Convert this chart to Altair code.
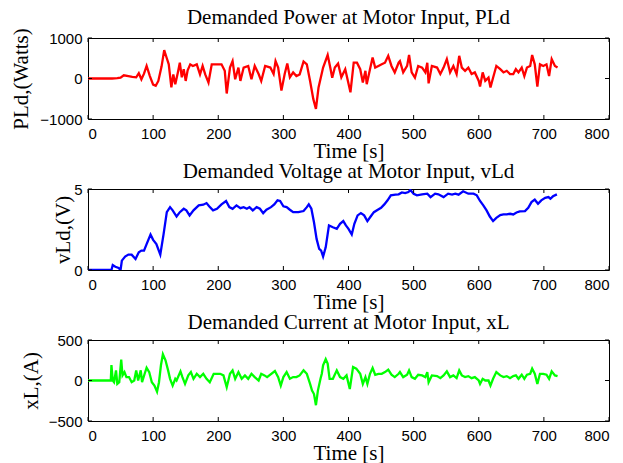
import altair as alt
import pandas as pd

# ---------------- data ----------------
time_ticks = [0, 100, 200, 300, 400, 500, 600, 700, 800]

power_t = [0, 37, 45, 50, 55, 62, 68, 74, 78, 82, 86, 90, 95, 100, 104, 108, 113, 117, 121, 124,
           128, 131, 134, 138, 141, 144, 147, 150, 153, 157, 161, 167, 172, 176, 180, 185, 190, 198,
           205, 210, 213, 218, 222, 226, 231, 234, 239, 246, 251, 256, 262, 266, 272, 280, 285, 288,
           292, 297, 302, 306, 310, 315, 320, 325, 331, 336, 341, 346, 350, 354, 361, 368, 372, 375,
           379, 384, 389, 395, 403, 408, 413, 418, 422, 426, 428, 433, 437, 441, 446, 451, 456, 461,
           466, 471, 477, 479, 484, 490, 493, 497, 502, 507, 513, 518, 521, 523, 528, 536, 541, 546,
           551, 556, 561, 566, 570, 574, 579, 584, 589, 594, 600, 602, 606, 610, 615, 618, 622, 627,
           633, 638, 643, 648, 653, 657, 661, 666, 670, 674, 679, 682, 686, 690, 694, 699, 704, 708,
           712, 717, 721]
power_w = [0, 0, 10, 20, 80, 60, 40, 30, 130, -20, 120, 310, 60, -150, -180, -60, 300, 700, 500, 350,
           -220, 100, -140, 150, 390, 30, 230, -60, 200, 350, 310, 350, 100, 310, 100, -100, 350, 350,
           350, 190, -370, 270, 430, -20, 270, -60, 270, 310, -20, 310, 110, -60, 310, 270, 110, 430,
           270, -300, 110, 370, 30, 150, 60, 100, 420, 350, -60, -510, -750, -220, 270, 580, 270, 20,
           270, 370, 30, 230, -340, 390, 390, 230, -100, 190, -140, 230, 520, 270, 310, 350, 390, 560,
           310, 150, 390, 430, 150, 310, 580, 150, 20, 310, 270, 150, 390, -120, 310, 270, 110, 270,
           480, 150, 310, 110, 560, 270, 190, 270, 110, 150, -60, -200, 150, -60, 20, -220, 20, 310,
           230, 150, 190, 110, 110, 230, 150, 270, 60, 270, 310, 580, 350, -200, 350, 310, 350, 60,
           480, 310, 270]

volt_t = [0, 36, 38, 42, 47, 50, 52, 57, 62, 67, 73, 78, 82, 86, 90, 96, 100, 105, 111, 116, 121,
          126, 130, 136, 141, 147, 151, 156, 162, 170, 177, 182, 186, 192, 198, 205, 212, 217, 222,
          228, 234, 239, 244, 248, 253, 259, 264, 269, 274, 281, 286, 291, 295, 300, 305, 310, 315,
          323, 331, 336, 339, 343, 347, 351, 355, 358, 361, 365, 370, 376, 382, 387, 392, 396, 400,
          405, 409, 414, 419, 424, 429, 434, 439, 445, 450, 455, 460, 465, 472, 477, 482, 487, 492,
          495, 500, 505, 513, 521, 526, 533, 538, 546, 553, 559, 564, 569, 576, 584, 592, 597, 602,
          607, 612, 617, 622, 627, 633, 638, 643, 648, 653, 658, 663, 671, 676, 681, 686, 691, 696,
          702, 707, 710, 714, 720]
volt_v = [0, 0, 0.30, 0.20, 0.12, 0.0, 0.58, 0.83, 0.95, 0.95, 0.68, 1.10, 1.20, 1.20, 1.60, 2.19,
          1.86, 1.60, 0.95, 2.20, 3.57, 3.88, 3.68, 3.30, 3.57, 3.78, 3.68, 3.37, 3.68, 3.99, 4.03,
          4.13, 3.93, 3.68, 3.78, 4.05, 4.26, 3.88, 3.78, 3.99, 3.82, 3.88, 3.78, 3.88, 3.68, 3.88,
          3.78, 3.51, 3.72, 3.88, 4.05, 4.30, 4.26, 3.93, 3.88, 3.72, 3.57, 3.57, 3.64, 3.88, 4.05,
          3.78, 2.95, 1.92, 1.30, 1.20, 0.83, 1.40, 2.75, 2.64, 2.54, 2.85, 3.02, 2.75, 2.54, 2.19,
          2.85, 3.37, 3.51, 3.37, 3.02, 3.30, 3.57, 3.72, 3.84, 4.05, 4.30, 4.61, 4.65, 4.67, 4.79,
          4.75, 4.81, 4.94, 4.71, 4.61, 4.67, 4.71, 4.50, 4.71, 4.67, 4.50, 4.71, 4.65, 4.71, 4.65,
          4.86, 4.71, 4.71, 4.61, 4.26, 3.99, 3.68, 3.30, 3.02, 3.22, 3.39, 3.43, 3.43, 3.47, 3.43,
          3.55, 3.62, 3.64, 3.84, 4.19, 4.34, 4.09, 4.30, 4.46, 4.50, 4.40, 4.55, 4.67]

curr_t = [0, 35, 36, 38, 40, 43, 45, 48, 51, 53, 56, 59, 63, 67, 71, 74, 77, 81, 83, 87, 90, 94, 98,
          102, 106, 109, 112, 115, 119, 123, 126, 130, 134, 136, 142, 145, 149, 154, 158, 162, 167,
          172, 177, 182, 187, 193, 198, 203, 208, 213, 218, 222, 226, 231, 236, 241, 246, 251, 256,
          262, 266, 271, 275, 287, 292, 296, 300, 305, 310, 315, 320, 325, 331, 336, 341, 344, 347,
          350, 353, 357, 359, 361, 365, 368, 371, 376, 382, 387, 392, 397, 402, 407, 412, 418, 422,
          426, 429, 433, 437, 441, 446, 451, 456, 461, 466, 471, 477, 479, 484, 490, 493, 497, 502,
          507, 513, 518, 521, 523, 528, 536, 541, 546, 551, 556, 561, 566, 570, 574, 579, 584, 589,
          594, 600, 602, 606, 610, 615, 618, 622, 627, 633, 638, 643, 648, 653, 657, 661, 666, 670,
          674, 679, 682, 686, 690, 694, 699, 704, 708, 712, 717, 721]
curr_a = [0, 0, 190, 0, -21, 125, -42, -21, 258, 63, 104, 42, 42, -21, 0, 125, 0, 125, -21, 83, 158,
          104, -21, -63, -138, -21, 188, 325, 250, 125, 21, -63, 21, 0, 113, 42, -42, 63, 104, 21, 83,
          42, 83, 21, -21, 83, 83, 83, 63, -83, 83, 125, 21, 104, 21, 63, 21, 83, 42, 0, 83, 63, 42,
          117, 42, -63, 42, 104, 21, 42, 42, 63, 125, 83, -42, -125, -167, -305, -125, 21, 83, 188,
          263, 208, 21, 21, 125, 42, 21, 63, -105, 167, 146, 83, -42, 42, -42, 83, 154, 71, 83, 83,
          104, 133, 71, 42, 83, 104, 42, 71, 125, 42, 21, 71, 63, 42, 104, -21, 63, 54, 29, 63, 113,
          42, 63, 29, 125, 63, 42, 54, 29, 42, 0, -42, 21, 0, 0, -63, 21, 104, 63, 42, 54, 29, 54,
          63, 21, 71, 21, 71, 83, 146, 83, -42, 83, 83, 71, 21, 113, 63, 54]

W, H = 521, 81


def panel(ts, vs, color, ydom, yticks, title, ytitle, title_x):
    df = pd.DataFrame({"t": ts, "v": vs})
    xdf = pd.DataFrame({"t": time_ticks})
    ydf = pd.DataFrame({"v": yticks})
    xscale = alt.Scale(domain=[0, 800], nice=False, zero=False)
    yscale = alt.Scale(domain=ydom, nice=False, zero=False)
    xaxis = alt.Axis(values=time_ticks, title="Time [s]", labelPadding=7, format="d",
                     titleY=38.5, titleBaseline="alphabetic")
    yaxis = alt.Axis(values=yticks, title=ytitle, labelPadding=6, titleX=title_x, format="d",
                     titleBaseline="middle")
    xenc = alt.X("t:Q", scale=xscale, axis=xaxis)
    yenc = alt.Y("v:Q", scale=yscale, axis=yaxis)

    line = alt.Chart(df).mark_line(color=color, strokeWidth=2.3, clip=True).encode(x=xenc, y=yenc)
    top_ticks = alt.Chart(xdf).mark_rule(color="black", strokeWidth=1).encode(
        x=xenc, y=alt.value(0), y2=alt.value(4))
    bot_ticks = alt.Chart(xdf).mark_rule(color="black", strokeWidth=1).encode(
        x=xenc, y=alt.value(H), y2=alt.value(H - 4))
    left_ticks = alt.Chart(ydf).mark_rule(color="black", strokeWidth=1).encode(
        y=yenc, x=alt.value(0), x2=alt.value(4))
    right_ticks = alt.Chart(ydf).mark_rule(color="black", strokeWidth=1).encode(
        y=yenc, x=alt.value(W), x2=alt.value(W - 4))
    return alt.layer(line, top_ticks, bot_ticks, left_ticks, right_ticks).properties(
        width=W, height=H,
        title=alt.TitleParams(title, frame="group", anchor="middle", baseline="alphabetic",
                              offset=-17),
    )


p1 = panel(power_t, power_w, "#ff0000", [-1000, 1000], [-1000, 0, 1000],
           "Demanded Power at Motor Input, PLd", "PLd,(Watts)", -67)
p2 = panel(volt_t, volt_v, "#0000ff", [0, 5], [0, 5],
           "Demanded Voltage at Motor Input, vLd", "vLd,(V)", -25)
p3 = panel(curr_t, curr_a, "#00ff00", [-500, 500], [-500, 0, 500],
           "Demanded Current at Motor Input, xL", "xL,(A)", -57)

chart = alt.vconcat(p1, p2, p3, spacing=70, bounds="flush").properties(
    padding={"left": 1, "top": -2, "right": 5, "bottom": 0},
    background="white",
).configure_view(
    stroke="black", strokeWidth=1
).configure_axis(
    grid=False, domain=False, ticks=False,
    labelFont="Liberation Sans", labelFontSize=15, labelColor="black",
    titleFont="Liberation Serif", titleFontSize=21, titleFontWeight="normal", titleColor="black",
).configure_title(
    font="Liberation Serif", fontSize=21, fontWeight="normal", color="black",
)

chart.save("out.html", embed_options={"renderer": "svg", "actions": False})
